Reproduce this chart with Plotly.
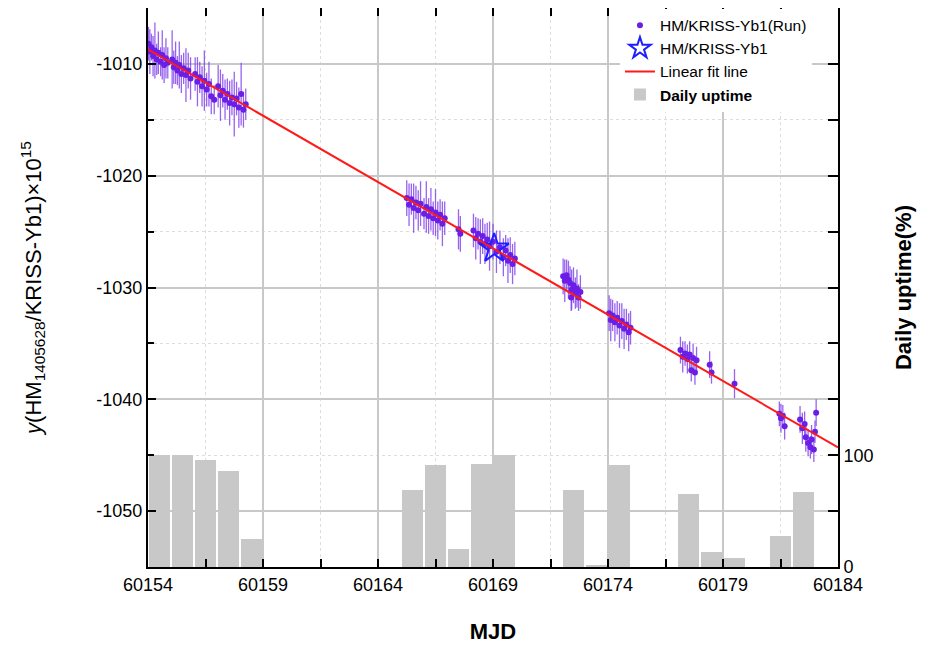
import plotly.graph_objects as go

# ---- data ----
run_mjd = [
    60154.02, 60154.08, 60154.15, 60154.22, 60154.30, 60154.38, 60154.45, 60154.55, 60154.62, 60154.70,
    60154.78, 60154.86, 60155.05, 60155.12, 60155.20, 60155.28, 60155.36, 60155.45, 60155.55, 60155.65,
    60155.75, 60155.85, 60156.05, 60156.15, 60156.25, 60156.35, 60156.45, 60156.55, 60156.65, 60156.75,
    60156.88, 60157.05, 60157.15, 60157.25, 60157.35, 60157.45, 60157.55, 60157.65, 60157.75, 60157.85,
    60157.95, 60158.05, 60158.15, 60158.25,
    60165.25, 60165.35, 60165.45, 60165.55, 60165.65, 60165.75, 60165.85, 60166.00, 60166.10, 60166.20,
    60166.30, 60166.40, 60166.50, 60166.60, 60166.70, 60166.80, 60166.90, 60167.50, 60167.58,
    60168.15, 60168.25, 60168.35, 60168.45, 60168.55, 60168.65, 60168.75, 60168.85, 60169.00, 60169.15,
    60169.30, 60169.45, 60169.55, 60169.65, 60169.75, 60169.85, 60169.95,
    60172.05, 60172.12, 60172.20, 60172.28, 60172.35, 60172.40, 60172.42, 60172.50, 60172.58, 60172.65,
    60172.72, 60172.80,
    60174.05, 60174.12, 60174.20, 60174.30, 60174.40, 60174.50, 60174.60, 60174.70, 60174.80, 60174.90,
    60174.98,
    60177.15, 60177.25, 60177.35, 60177.45, 60177.55, 60177.62, 60177.70, 60177.78, 60177.85,
    60178.42, 60178.50, 60179.50,
    60181.45, 60181.52, 60181.60, 60181.68,
    60182.35, 60182.45, 60182.55, 60182.60, 60182.70, 60182.80, 60182.85, 60182.95, 60183.00, 60183.05,
]
run_y = [
    -1008.2, -1008.9, -1008.5, -1009.3, -1008.8, -1009.6, -1009.0, -1009.8, -1009.2, -1010.1,
    -1009.5, -1009.9, -1009.6, -1010.3, -1009.9, -1010.6, -1010.1, -1010.9, -1010.4, -1011.0,
    -1010.6, -1011.3, -1010.9, -1011.6, -1011.2, -1012.0, -1011.5, -1012.3, -1011.8, -1012.9,
    -1013.2, -1012.0, -1012.8, -1012.4, -1013.2, -1012.7, -1013.5, -1013.0, -1013.6, -1013.1,
    -1013.9, -1012.7, -1014.1, -1013.6,
    -1022.0, -1022.6, -1022.1, -1022.9, -1022.4, -1023.1, -1022.5, -1023.4, -1022.8, -1023.6,
    -1023.0, -1023.8, -1023.3, -1024.0, -1023.5, -1024.3, -1023.8, -1024.8, -1025.2,
    -1024.9, -1025.6, -1025.2, -1025.9, -1025.4, -1026.1, -1025.7, -1026.3, -1025.9, -1026.8,
    -1026.4, -1027.3, -1026.7, -1027.6, -1027.1, -1027.9, -1027.4,
    -1029.0, -1029.4, -1028.9, -1029.3, -1029.6, -1030.9, -1030.2, -1029.8, -1030.5, -1030.1,
    -1030.9, -1030.4,
    -1032.3, -1032.9, -1032.5, -1033.1, -1032.7, -1033.4, -1033.0, -1033.7, -1033.3, -1034.0,
    -1033.6,
    -1035.6, -1036.2, -1035.9, -1036.4, -1036.0, -1037.4, -1036.3, -1037.6, -1036.5,
    -1036.9, -1037.6, -1038.6,
    -1041.3, -1041.7, -1041.5, -1042.4,
    -1041.8, -1042.6, -1042.2, -1043.4, -1043.9, -1044.3, -1043.6, -1044.5, -1042.9, -1041.2,
]
run_err = [
    1.5, 2.0, 1.2, 1.8, 2.5, 1.4, 1.9, 1.3, 2.2, 1.6,
    1.8, 1.4, 2.6, 1.5, 1.9, 1.3, 2.1, 1.7, 1.4, 2.4,
    1.6, 1.9, 1.5, 2.2, 1.4, 1.8, 2.7, 1.5, 2.0, 1.6,
    1.3, 1.9, 2.3, 1.5, 1.8, 1.4, 2.0, 1.6, 2.9, 1.5,
    1.8, 2.8, 1.6, 1.4,
    1.6, 1.9, 1.4, 2.2, 1.5, 1.8, 2.0, 1.4, 2.3, 1.6,
    1.9, 1.5, 2.1, 1.7, 1.4, 2.0, 1.5, 1.8, 1.6,
    1.5, 1.9, 1.4, 2.0, 1.6, 1.8, 1.5, 2.2, 1.6, 1.9,
    1.5, 1.7, 1.4, 2.0, 1.6, 1.8, 1.5,
    1.6, 1.9, 1.4, 1.7, 1.5, 1.2, 1.8, 1.6, 1.4, 1.7,
    1.2, 1.5,
    1.6, 1.9, 1.4, 1.7, 1.5, 2.0, 1.6, 1.8, 1.4, 1.7,
    1.5,
    1.2, 1.4, 1.1, 1.3, 1.2, 1.0, 1.3, 1.1, 1.2,
    1.2, 1.0, 1.3,
    1.1, 1.3, 1.0, 1.2,
    1.2, 1.4, 1.1, 1.3, 1.2, 1.0, 1.3, 1.1, 1.0, 1.2,
]

star_mjd = [60169.05]
star_y = [-1026.5]

fit_mjd = [60154.0, 60184.0]
fit_y = [-1008.7, -1044.3]

uptime_mjd = [60154.5, 60155.5, 60156.5, 60157.5, 60158.5,
              60165.5, 60166.5, 60167.5, 60168.5, 60169.5,
              60172.5, 60173.5, 60174.5,
              60177.5, 60178.5, 60179.5,
              60181.5, 60182.5]
uptime_pct = [100, 100, 96, 86, 25,
              69, 91, 16, 92, 100,
              69, 1, 91,
              65, 13, 8,
              28, 67]

x_ticks = [60154, 60159, 60164, 60169, 60174, 60179, 60184]
y_ticks = [-1050, -1040, -1030, -1020, -1010]
uptime_ticks = [0, 100]

FONT = "Liberation Sans, Arial, sans-serif"
PURPLE = "#6a1ee6"

fig = go.Figure()

fig.add_trace(go.Scatter(
    x=run_mjd, y=run_y, mode="markers", name="HM/KRISS-Yb1(Run)",
    marker=dict(color=PURPLE, size=6),
    error_y=dict(type="data", array=run_err, color="rgba(125,60,235,0.8)", thickness=1.3, width=0),
    yaxis="y2",
))
fig.add_trace(go.Scatter(
    x=star_mjd, y=star_y, mode="markers", name="HM/KRISS-Yb1",
    marker=dict(symbol="star-open", size=22, color="#1e1eff", line=dict(width=2, color="#1e1eff")),
    yaxis="y2",
))
fig.add_trace(go.Scatter(
    x=fit_mjd, y=fit_y, mode="lines", name="Linear fit line",
    line=dict(color="#ff1a1a", width=2),
    yaxis="y2",
))
fig.add_trace(go.Bar(
    x=uptime_mjd, y=uptime_pct, name="<b>Daily uptime</b>",
    marker=dict(color="#c8c8c8", line=dict(width=0)),
    width=0.92,
    yaxis="y",
))

axis_common = dict(
    showline=True, linecolor="black", linewidth=2,
    tickfont=dict(family=FONT, size=18, color="black"),
    ticks="inside", tickcolor="black", tickwidth=2,
    automargin=False,
)

fig.update_layout(
    width=928, height=646,
    margin=dict(l=140, r=98, t=0, b=87),
    plot_bgcolor="white", paper_bgcolor="white",
    font=dict(family=FONT, color="black"),
    showlegend=True,
    legend=dict(
        x=0.684, y=0.999, xanchor="left", yanchor="top",
        bgcolor="white", borderwidth=0,
        font=dict(family=FONT, size=15.5, color="black"),
        tracegroupgap=0, itemwidth=30,
    ),
    bargap=0,
    xaxis=dict(
        range=[60154, 60184],
        tickvals=x_ticks, ticktext=[str(v) for v in x_ticks],
        ticklen=8, mirror="allticks",
        showgrid=True, gridcolor="#c8c8c8", gridwidth=1.5,
        minor=dict(dtick=2.5, tick0=60154, ticks="inside", ticklen=5, tickcolor="black",
                   showgrid=True, gridcolor="#dddddd", griddash="dot", gridwidth=1),
        title=dict(text="<b>MJD</b>", font=dict(family=FONT, size=22, color="black"), standoff=30),
        zeroline=False,
        **axis_common,
    ),
    yaxis=dict(
        side="right", range=[0, 500],
        tickvals=uptime_ticks, ticktext=[str(v) for v in uptime_ticks],
        ticklen=10, showgrid=False, zeroline=False,
        minor=dict(dtick=50, ticks="inside", ticklen=10, tickcolor="black", showgrid=False),
        title=dict(text="<b>Daily uptime(%)</b>", font=dict(family=FONT, size=22, color="black"), standoff=23),
        **axis_common,
    ),
    yaxis2=dict(
        overlaying="y", side="left", range=[-1055, -1005],
        tickvals=y_ticks, ticktext=["-" + str(abs(v)) for v in y_ticks],
        ticklen=8,
        showgrid=True, gridcolor="#c8c8c8", gridwidth=1.5,
        minor=dict(dtick=5, tick0=-1010, ticks="inside", ticklen=6, tickcolor="black",
                   showgrid=True, gridcolor="#dddddd", griddash="dot", gridwidth=1),
        zeroline=False,
        title=dict(text="<i>y</i>(HM<sub>1405628</sub>/KRISS-Yb1)×10<sup>15</sup>",
                   font=dict(family=FONT, size=22, color="black"), standoff=49),
        **axis_common,
    ),
)

fig.write_html("out.html")
